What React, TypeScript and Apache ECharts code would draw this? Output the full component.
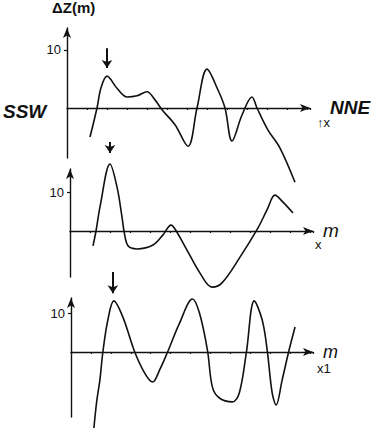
import React, { useEffect, useRef } from "react";
import * as echarts from "echarts";

// Distance along profile (arbitrary units from the vertical axis) and ΔZ (m)
const xTop = [23, 30, 34, 40, 50, 60, 70, 80, 88, 95, 108, 121, 130, 140, 151, 158, 165, 175, 185, 190, 201, 213, 228];
const zTop = [-5.0, 0, 3.5, 5.5, 3.4, 1.9, 2.1, 2.8, 1.4, -0.3, -2.9, -6.6, 0, 6.7, 3.1, 0, -5.7, -1.2, 1.9, 0, -3.8, -6.9, -12.8];

const xMid = [23, 26, 30, 40, 47, 52, 54, 58, 67, 83, 93, 101, 105, 117, 130, 142, 152, 170, 188, 197, 205, 213, 223];
const zMid = [-3.8, 0, 6.2, 17.2, 11.3, 3.6, 0, -3.8, -4.6, -3.6, -1.0, 1.5, 0.5, -4.9, -10.8, -14.4, -13.3, -6.7, 0.8, 5.4, 9.2, 7.4, 4.6];

const xBot = [23, 26, 29, 32, 37, 43, 52, 64, 74, 82, 89, 97, 109, 122, 129, 137, 142, 149, 162, 169, 176, 184, 192, 197, 202, 206, 212, 219, 225];
const zBot = [-19.5, -12.3, -7.2, 0, 8.2, 13.1, 9.0, 0, -5.4, -7.7, -4.6, 0, 7.4, 13.6, 10, 0.5, -9.0, -11.8, -12.8, -10.5, -0.3, 13.1, 8.2, 0.5, -10.5, -13.6, -7.2, 0.5, 6.4];

// Downward arrows marking the peaks
const arrowX = [40, 40, 42];
const arrowFrom = [10.3, 22.8, 20.5];
const arrowTo = [6.9, 20.0, 15.1];

const yTickLabels = [10];
const axisNames = ["NNE", "m", "m"];
const subLabels = ["↑x", "x", "x1"];

const panels = [
  { xs: xTop, ys: zTop },
  { xs: xMid, ys: zMid },
  { xs: xBot, ys: zBot },
];

export default function App() {
  const ref = useRef<HTMLDivElement>(null);
  useEffect(() => {
    if (!ref.current) return;
    const chart = echarts.init(ref.current, null, { renderer: "svg" });
    const font = "Liberation Sans";
    const grids = [
      { left: 67, width: 243, top: 28, height: 130 },
      { left: 70, width: 243, top: 169, height: 108 },
      { left: 71, width: 242, top: 298, height: 119 },
    ];
    const yRanges = [
      [-8.62, 13.79],
      [-11.8, 15.9],
      [-16.67, 13.85],
    ];
    const nameGaps = [20, 10, 10];
    const nameStyles = [
      { fontSize: 19, fontStyle: "italic", fontWeight: "bold", padding: [0, 0, 7, 0] },
      { fontSize: 19, fontStyle: "italic", padding: [0, 0, 6, 0] },
      { fontSize: 18, fontStyle: "italic", padding: [0, 0, 9, 0] },
    ];
    const axisColor = "#111";

    const option: any = {
      animation: false,
      backgroundColor: "#fff",
      title: {
        text: "ΔZ(m)",
        left: 52,
        top: 0,
        padding: 0,
        textStyle: { fontSize: 15, fontWeight: "bold", color: "#111", fontFamily: font },
      },
      grid: grids,
      xAxis: grids.map((_, i) => ({
        type: "value",
        gridIndex: i,
        min: 0,
        max: 243,
        interval: 20,
        name: axisNames[i],
        nameLocation: "end",
        nameGap: nameGaps[i],
        nameTextStyle: { color: "#111", fontFamily: font, ...nameStyles[i] },
        axisLine: {
          onZero: true,
          symbol: ["none", "arrow"],
          symbolSize: [6, 10],
          lineStyle: { color: axisColor, width: 1.4 },
        },
        axisTick: { show: true, length: 2, inside: false, lineStyle: { color: axisColor, width: 1.2 } },
        axisLabel: { show: false },
        splitLine: { show: false },
      })),
      yAxis: grids.map((_, i) => ({
        type: "value",
        gridIndex: i,
        min: yRanges[i][0],
        max: yRanges[i][1],
        axisLine: {
          onZero: false,
          symbol: ["none", "arrow"],
          symbolSize: [6, 10],
          lineStyle: { color: axisColor, width: 1.4 },
        },
        axisTick: { show: true, length: 3, customValues: yTickLabels, lineStyle: { color: axisColor, width: 1.2 } },
        axisLabel: {
          show: true,
          customValues: yTickLabels,
          margin: 6,
          fontSize: 13,
          color: "#111",
          fontFamily: font,
        },
        splitLine: { show: false },
      })),
      series: [
        ...panels.map((p, i) => ({
          type: "line",
          xAxisIndex: i,
          yAxisIndex: i,
          data: p.xs.map((x, k) => [x, p.ys[k]]),
          smooth: 0.35,
          symbol: "none",
          clip: false,
          lineStyle: { color: "#111", width: 1.6 },
        })),
        ...arrowX.map((x, i) => ({
          type: "lines",
          coordinateSystem: "cartesian2d",
          xAxisIndex: i,
          yAxisIndex: i,
          clip: false,
          symbol: ["none", "arrow"],
          symbolSize: 8,
          lineStyle: { color: "#111", width: 2, curveness: 0, opacity: 1 },
          data: [{ coords: [[x, arrowFrom[i]], [x, arrowTo[i]]] }],
        })),
      ],
      graphic: [
        {
          type: "text",
          left: 3,
          top: 102,
          style: { text: "SSW", fontSize: 19, fontStyle: "italic", fontWeight: "bold", fill: "#111", fontFamily: font },
        },
        {
          type: "text",
          left: 317,
          top: 116,
          style: { text: subLabels[0], fontSize: 13, fill: "#111", fontFamily: font },
        },
        {
          type: "text",
          left: 315,
          top: 238,
          style: { text: subLabels[1], fontSize: 13, fill: "#111", fontFamily: font },
        },
        {
          type: "text",
          left: 317,
          top: 362,
          style: { text: subLabels[2], fontSize: 13, fill: "#111", fontFamily: font },
        },
      ],
    };
    chart.setOption(option);
    return () => chart.dispose();
  }, []);
  return (
    <div
      ref={ref}
      style={{ position: "absolute", left: 0, top: 0, width: 374, height: 433, background: "#fff" }}
    />
  );
}
